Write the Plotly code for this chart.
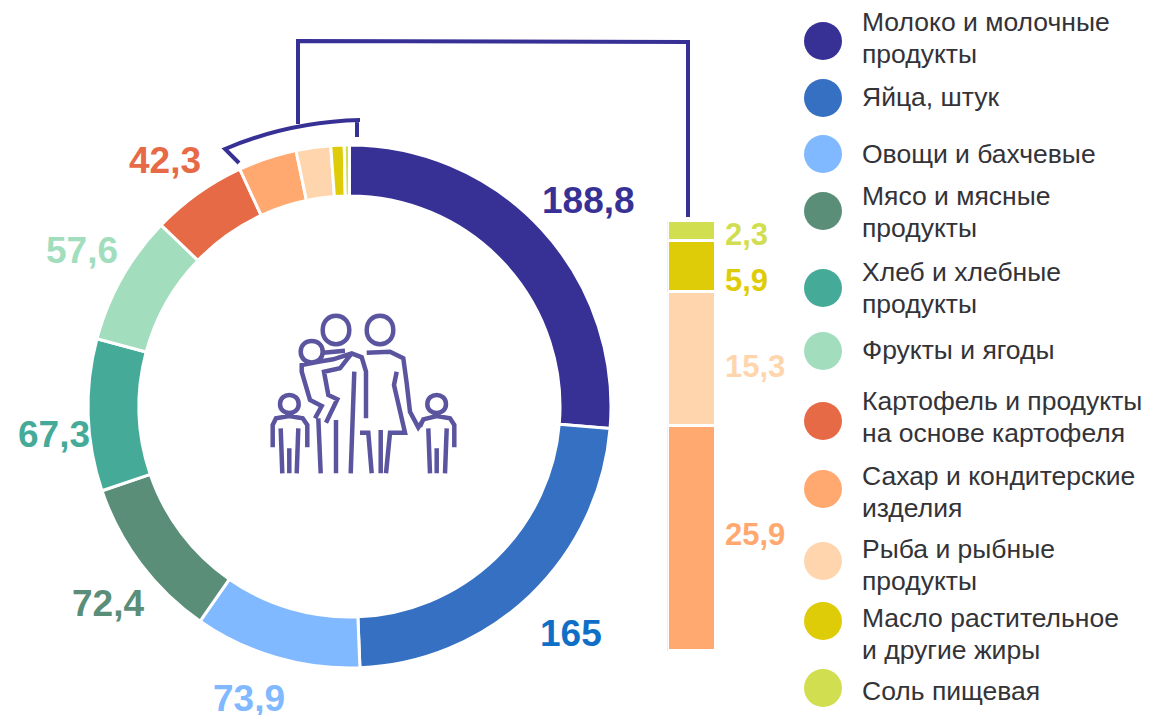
import plotly.graph_objects as go

W, H = 1150, 715
FONT = "Liberation Sans"

# ---- data ----
categories = ["Молоко и молочные<br>продукты", "Яйца, штук", "Овощи и бахчевые",
              "Мясо и мясные<br>продукты", "Хлеб и хлебные<br>продукты", "Фрукты и ягоды",
              "Картофель и продукты<br>на основе картофеля", "Сахар и кондитерские<br>изделия",
              "Рыба и рыбные<br>продукты", "Масло растительное<br>и другие жиры", "Соль пищевая"]
values = [188.8, 165, 73.9, 72.4, 67.3, 57.6, 42.3, 25.9, 15.3, 5.9, 2.3]
colors = ["#373196", "#3570C2", "#80B9FF", "#5A8E78", "#45AB98", "#A2DEBD",
          "#E66A46", "#FFA970", "#FFD5AE", "#DFCC08", "#D1DE50"]
label_colors = ["#373196", "#0F6FC6", "#80B9FF", "#5A8E78", "#45AB98", "#A2DEBD", "#E66A46"]
stack_indices = [7, 8, 9, 10]

# layout positions (pixels on the page)
donut_label_xy = [(588, 200), (571, 633), (249, 698), (108, 603), (54, 434), (82, 250), (165, 160)]
bar_label_xy = [(723, 534), (723, 366), (723, 280), (723, 234)]
legend_circle_y = [41, 98, 154, 211, 288, 351, 421, 489, 561, 621, 688]
legend_text_y = [38, 97, 154, 212, 288, 350, 417, 492, 565, 634, 691]
LEGEND_LINE_GAP = 32

fmt = lambda v: f"{v:g}".replace(".", ",")

fig = go.Figure()

# donut
cx, cy, R = 349.5, 406.5, 261.5
fig.add_trace(go.Pie(
    values=values, labels=[c.replace("<br>", " ") for c in categories],
    sort=False, direction="clockwise", rotation=0, hole=0.805,
    marker=dict(colors=colors, line=dict(color="white", width=3)),
    textinfo="none", hoverinfo="label+value", showlegend=False,
    domain=dict(x=[(cx - R) / W, (cx + R) / W], y=[1 - (cy + R) / H, 1 - (cy - R) / H]),
))

# stacked bar
stack_total = sum(values[i] for i in stack_indices)
for i in stack_indices:
    fig.add_trace(go.Bar(
        x=["s"], y=[values[i]], marker=dict(color=colors[i], line=dict(color="white", width=3)),
        width=1, showlegend=False, xaxis="x2", yaxis="y2", name=categories[i].replace("<br>", " "),
    ))

# overlay canvas in page pixels: legend circles, connector, family icon
fig.add_trace(go.Scatter(
    x=[823] * len(categories), y=legend_circle_y, mode="markers",
    marker=dict(size=38, color=colors, line=dict(width=0)),
    hoverinfo="skip", showlegend=False, xaxis="x3", yaxis="y3",
))

annotations = []
def note(x, y, text, color, size, bold=False, anchor="center"):
    annotations.append(dict(
        xref="x3", yref="y3", x=x, y=y, text=f"<b>{text}</b>" if bold else text,
        showarrow=False, xanchor=anchor, yanchor="middle",
        font=dict(family=FONT, size=size, color=color),
    ))

for (x, y), v, c in zip(donut_label_xy, values, label_colors):
    note(x, y, fmt(v), c, 37, bold=True)
for (x, y), i in zip(bar_label_xy, stack_indices):
    note(x, y, fmt(values[i]), colors[i], 31, bold=True, anchor="left")
for y, t in zip(legend_text_y, categories):
    lines = t.split("<br>")
    for k, line in enumerate(lines):
        note(860, y + (k - (len(lines) - 1) / 2) * LEGEND_LINE_GAP, line, "#333338", 26.5, anchor="left")

LINE = dict(color="#373196", width=4)
shapes = [
    dict(type="path", xref="x3", yref="y3", line=LINE,
         path="M239,163 L225,149 Q288,122 360,120 M357,120 L357,137"),
    dict(type="path", xref="x3", yref="y3", line=LINE,
         path="M298,124 L298,41 L688,42 L688,217"),
]

# family icon: strokes traced in a 3x zoomed frame at offset (250, 300)
def z(px, py):
    return f"{250 + px / 3:.1f},{300 + py / 3:.1f}"

def poly(*pts):
    return "M" + " L".join(z(*p) for p in pts)

def head(px, py, rx, ry):
    return (f"M{z(px - rx, py)} C{z(px - rx, py - ry * 1.3)} {z(px + rx, py - ry * 1.3)} {z(px + rx, py)} "
            f"C{z(px + rx, py + ry * 1.3)} {z(px - rx, py + ry * 1.3)} {z(px - rx, py)} Z")

icon = [
    head(258, 90, 40, 44), head(390, 90, 40, 44), head(185, 155, 33, 33),
    head(118, 312, 28, 28), head(560, 312, 28, 28),
    poly((68, 442), (68, 375), (78, 355), (118, 348), (158, 355), (172, 375), (172, 442)),
    poly((92, 385), (97, 520)), poly((145, 385), (140, 520)), poly((118, 445), (118, 520)),
    poly((510, 380), (520, 358), (560, 348), (600, 355), (613, 375), (613, 442)),
    poly((535, 385), (540, 520)), poly((590, 385), (585, 520)), poly((560, 445), (560, 520)),
    poly((220, 158), (285, 152)),
    poly((205, 185), (250, 178), (305, 160), (335, 172), (348, 215), (348, 355)),
    poly((205, 185), (155, 195), (155, 215), (180, 300), (215, 318), (195, 355)),
    poly((205, 355), (212, 520)), poly((258, 360), (258, 520)),
    poly((305, 160), (270, 205), (222, 215), (235, 285), (262, 298), (228, 368)),
    poly((313, 215), (302, 520)),
    poly((350, 158), (420, 155), (460, 175), (470, 250), (480, 335), (505, 382), (520, 360)),
    poly((440, 215), (432, 255), (465, 398), (420, 398), (408, 520)),
    poly((330, 398), (355, 398), (365, 520)), poly((392, 390), (392, 520)),
]
shapes.append(dict(type="path", xref="x3", yref="y3", path=" ".join(icon),
                   line=dict(color="#5B559F", width=4.5)))

hidden = dict(visible=False, fixedrange=True)
fig.update_layout(
    width=W, height=H, margin=dict(l=0, r=0, t=0, b=0), autosize=False,
    paper_bgcolor="white", plot_bgcolor="rgba(0,0,0,0)", barmode="stack", bargap=0,
    xaxis2=dict(domain=[667.5 / W, 715.5 / W], anchor="y2", **hidden),
    yaxis2=dict(domain=[1 - 651 / H, 1 - 221 / H], range=[0, stack_total], anchor="x2", **hidden),
    xaxis3=dict(domain=[0, 1], range=[0, W], anchor="y3", **hidden),
    yaxis3=dict(domain=[0, 1], range=[H, 0], anchor="x3", **hidden),
    annotations=annotations, shapes=shapes,
)
fig.write_html("out.html", config=dict(displayModeBar=False),
               post_script="document.body.style.margin='0';")
